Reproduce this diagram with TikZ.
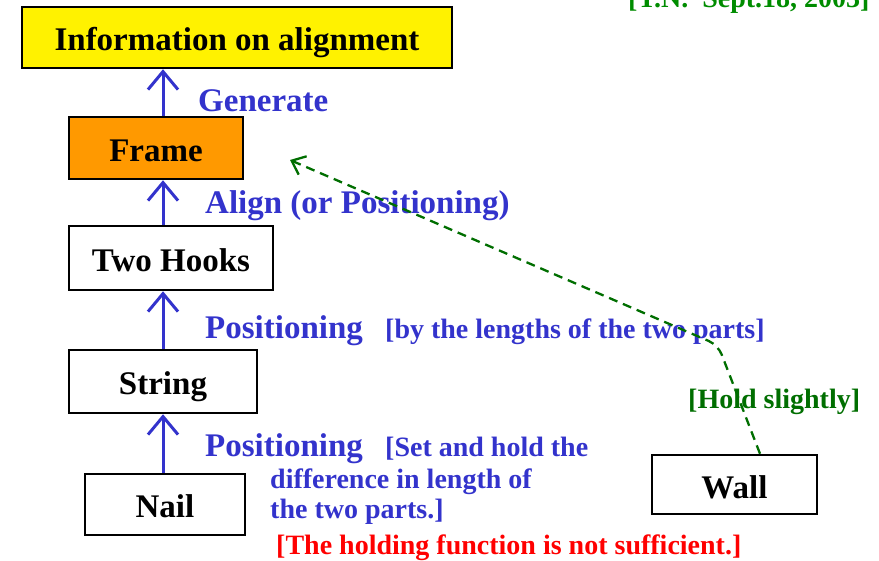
\documentclass[tikz,border=0pt]{standalone}
\usepackage{fontspec}
\setmainfont{Liberation Serif}
\usetikzlibrary{arrows.meta,calc}
\definecolor{lblue}{RGB}{51,51,204}
\definecolor{dgreen}{RGB}{0,110,0}
\definecolor{tgreen}{RGB}{0,140,0}
\definecolor{orng}{RGB}{255,153,0}
\begin{document}
\begin{tikzpicture}[x=1pt,y=-1pt,
  box/.style={draw=black,line width=2.5pt,inner sep=0pt,text height=27pt,text depth=0pt,font=\fontsize{33}{33}\selectfont\bfseries},
  arr/.style={draw=lblue,line width=3pt,-{Straight Barb[length=18pt,width=30pt,line width=3pt]}},
  lbl/.style={anchor=base west,inner sep=0pt,text=lblue,font=\fontsize{33}{33}\selectfont\bfseries},
  sml/.style={anchor=base west,inner sep=0pt,text=lblue,font=\fontsize{28}{28}\selectfont\bfseries},
  grn/.style={draw=dgreen,line width=2.3pt,dash pattern=on 9pt off 6pt}]
\useasboundingbox (0,0) rectangle (879,561);
\node[box,fill=yellow,minimum width=430pt,minimum height=61pt] (info) at (237,37.5) {Information on alignment};
\node[box,fill=orng,minimum width=174pt,minimum height=62pt] (frame) at (156,148) {Frame};
\node[box,fill=white,minimum width=204pt,minimum height=64pt] (hooks) at (171,258) {Two Hooks};
\node[box,fill=white,minimum width=188pt,minimum height=63pt] (string) at (163,381.5) {String};
\node[box,fill=white,minimum width=160pt,minimum height=61pt] (nail) at (165,504.5) {Nail};
\node[box,fill=white,minimum width=165pt,minimum height=59pt] (wall) at (734.5,484.5) {Wall};
\draw[arr] (nail.north -| string) -- (string.south);
\draw[arr] (string.north) -- (string.north |- hooks.south);
\draw[arr] (hooks.north -| string) -- (string.north |- frame.south);
\draw[arr] (frame.north -| string) -- (string.north |- info.south);
\node[lbl] (gen) at (198,111.5) {Generate};
\node[lbl] (align) at (205,213.5) {Align (or Positioning)};
\node[lbl] (pos1) at (205,338.5) {Positioning};
\node[sml] (pos1b) at (385,338.5) {[by the lengths of the two parts]};
\node[lbl] (pos2) at (205,456.5) {Positioning};
\node[sml] (pos2b) at (385,456.5) {[Set and hold the};
\node[sml] (pos2c) at (270,488.5) {difference in length of};
\node[sml] (pos2d) at (270,518.5) {the two parts.]};
\node[sml,text=red] (red) at (276,554) {[The holding function is not sufficient.]};
\node[sml,text=dgreen] (hold) at (688,408.5) {[Hold slightly]};
\node[sml,text=tgreen] (tn) at (628,8) {[T.N.\ \ Sept.18, 2003]};
\coordinate (bend) at (718,345);
\coordinate (tip) at (290,160);
\draw[grn,rounded corners=10pt,-{Straight Barb[length=12pt,width=20pt,line width=2.3pt]}] ($(wall.north)+(25.5,0)$) -- (bend) -- (tip);
\end{tikzpicture}
\end{document}
